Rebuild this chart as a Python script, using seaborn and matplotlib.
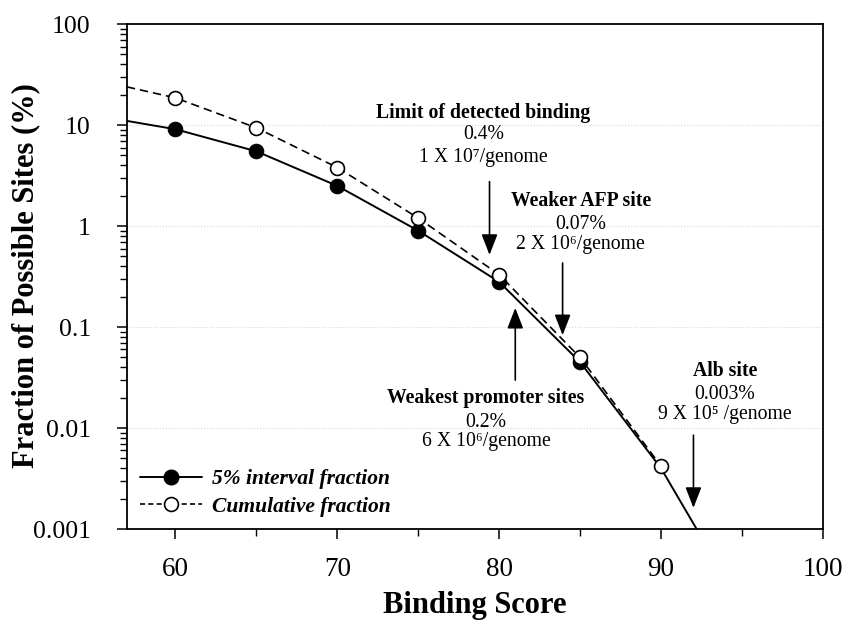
import numpy as np
import pandas as pd
import matplotlib
matplotlib.use("Agg")
import matplotlib.pyplot as plt
import seaborn as sns
from matplotlib.ticker import FixedLocator, FuncFormatter, LogLocator, NullFormatter
from matplotlib.lines import Line2D

# ---------------- data ----------------
score = [60, 65, 70, 75, 80, 85, 90]
interval_fraction = [9.1, 5.5, 2.5, 0.90, 0.28, 0.045]          # scores 60..85 (markers)
cumulative_fraction = [18.6, 9.4, 3.8, 1.2, 0.33, 0.050, 0.0042] # scores 60..90 (markers)

# curve extents beyond the markers
interval_curve_x = [57] + score + [92.2]
interval_curve_y = [11.0] + interval_fraction + [0.0040, 0.001]
cumulative_curve_x = [57] + score
cumulative_curve_y = [23.9] + cumulative_fraction

x_ticks = [60, 70, 80, 90, 100]
x_minor_ticks = [65, 75, 85, 95]
y_ticks = [0.001, 0.01, 0.1, 1, 10, 100]
y_tick_labels = ["0.001", "0.01", "0.1", "1", "10", "100"]

legend_labels = ["5% interval fraction", "Cumulative fraction"]

annotations = [
    # (bold title, percent, count per genome)
    ("Limit of detected binding", "0.4%", "1 X 10\u2077/genome"),
    ("Weaker AFP site", "0.07%", "2 X 10\u2076/genome"),
    ("Weakest promoter sites", "0.2%", "6 X 10\u2076/genome"),
    ("Alb site", "0.003%", "9 X 10\u2075 /genome"),
]

# ---------------- style ----------------
sns.set_theme(style="ticks")
plt.rcParams["font.family"] = ["Liberation Serif", "DejaVu Serif"]
for k in ["text.color", "axes.labelcolor", "xtick.color", "ytick.color", "xtick.labelcolor", "ytick.labelcolor"]:
    plt.rcParams[k] = "black"

fig = plt.figure(figsize=(8.46, 6.21), dpi=100)
fig.patch.set_facecolor("white")
ax = fig.add_axes([0.150, 0.148, 0.8227, 0.8132])
ax.set_facecolor("white")

df_int = pd.DataFrame({"x": interval_curve_x, "y": interval_curve_y})
df_cum = pd.DataFrame({"x": cumulative_curve_x, "y": cumulative_curve_y})

sns.lineplot(data=df_cum, x="x", y="y", ax=ax, color="black", lw=1.2,
             linestyle=(0, (5, 3)), marker="o", markersize=10,
             markerfacecolor="white", markeredgecolor="black", markeredgewidth=1.2,
             markevery=list(range(1, 1 + len(cumulative_fraction))), zorder=3)
sns.lineplot(data=df_int, x="x", y="y", ax=ax, color="black", lw=1.4,
             marker="o", markersize=10.5,
             markerfacecolor="black", markeredgecolor="black",
             markevery=list(range(1, 1 + len(interval_fraction))), zorder=2)

ax.set_yscale("log")
ax.set_xlim(57, 100)
ax.set_ylim(0.001, 100)

ax.xaxis.set_major_locator(FixedLocator(x_ticks))
ax.xaxis.set_minor_locator(FixedLocator(x_minor_ticks))
ax.yaxis.set_major_locator(FixedLocator(y_ticks))
ax.yaxis.set_major_formatter(FuncFormatter(lambda v, p: y_tick_labels[y_ticks.index(v)] if v in y_ticks else ""))
ax.yaxis.set_minor_locator(LogLocator(base=10, subs=np.arange(2, 10), numticks=20))
ax.yaxis.set_minor_formatter(NullFormatter())

ax.tick_params(axis="both", which="major", direction="out", length=7, width=1.1, color="black")
ax.tick_params(axis="x", which="major", pad=13, labelsize=19.5)
ax.tick_params(axis="y", which="major", pad=19, labelsize=18.5)
ax.tick_params(axis="both", which="minor", direction="out", length=5, width=1.0, color="black")

for s in ax.spines.values():
    s.set_visible(True)
    s.set_color("black")
    s.set_linewidth(1.3)

ax.grid(False)
for v in [0.01, 0.1, 1, 10]:
    ax.axhline(v, color="#d8d8d8", lw=0.8, ls=":", zorder=0)

ax.set_xlabel("Binding Score", fontsize=22, fontweight="bold")
ax.set_ylabel("Fraction of Possible Sites (%)", fontsize=22, fontweight="bold")
ax.xaxis.set_label_coords(0.5, -0.122)
ax.yaxis.set_label_coords(-0.124, 0.503)

# legend
handles = [
    Line2D([], [], color="black", lw=1.4, marker="o", markersize=10.5,
           markerfacecolor="black", markeredgecolor="black"),
    Line2D([], [], color="black", lw=1.2, linestyle=(0, (3, 2)), marker="o", markersize=10,
           markerfacecolor="white", markeredgecolor="black", markeredgewidth=1.2),
]
ax.legend(handles, legend_labels, loc="center left", bbox_to_anchor=(0.0187, 0.0715),
          frameon=False, handlelength=2.9, handletextpad=0.47, labelspacing=0.33,
          borderaxespad=0.0, borderpad=0.0,
          prop={"family": "Liberation Serif", "weight": "bold", "style": "italic", "size": 15.5})

# annotation text blocks (axes-fraction positions)
text_pos = [
    (0.512, [0.824, 0.781, 0.736]),
    (0.652, [0.649, 0.604, 0.563]),
    (0.516, [0.259, 0.212, 0.173]),
    (0.859, [0.313, 0.267, 0.226]),
]
for (title, pct, count), (tx, ty) in zip(annotations, text_pos):
    ax.text(tx, ty[0], title, transform=ax.transAxes, ha="center", va="center",
            fontsize=14.2, fontweight="bold")
    ax.text(tx, ty[1], pct, transform=ax.transAxes, ha="center", va="center", fontsize=14.2)
    ax.text(tx, ty[2], count, transform=ax.transAxes, ha="center", va="center", fontsize=14.2)

arrows = [
    (0.521, 0.688, 0.543),
    (0.626, 0.527, 0.384),
    (0.558, 0.295, 0.438),
    (0.814, 0.186, 0.042),
]
for ax_x, tail_y, head_y in arrows:
    ax.annotate("", xy=(ax_x, head_y), xytext=(ax_x, tail_y),
                xycoords="axes fraction", textcoords="axes fraction",
                arrowprops=dict(arrowstyle="-|>,head_length=0.9,head_width=0.35",
                                color="black", lw=1.2, shrinkA=0, shrinkB=0,
                                mutation_scale=14))

fig.savefig("out.png", dpi=100, facecolor="white")
